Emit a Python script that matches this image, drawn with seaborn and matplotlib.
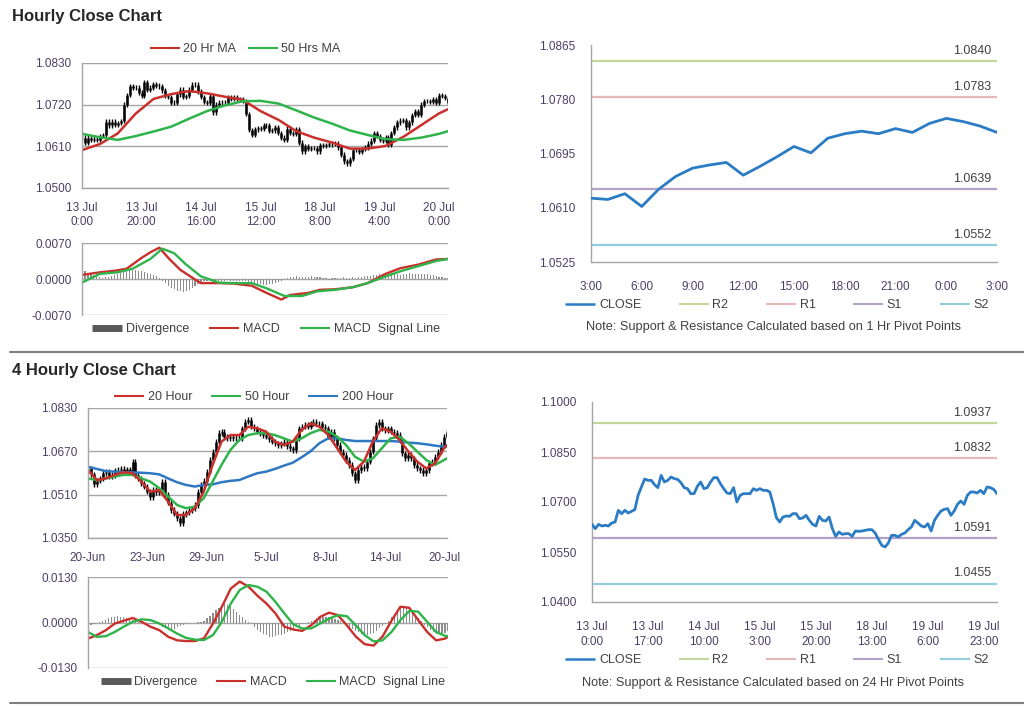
import numpy as np
import pandas as pd
import seaborn as sns
import matplotlib.pyplot as plt
from matplotlib.lines import Line2D

sns.set_style('white')
plt.rcParams['font.family'] = ['Liberation Sans', 'DejaVu Sans']

W, H = 1024, 706

# ---------------- hourly (13 Jul 0:00 .. 20 Jul 3:00) ----------------
hr_close = [1.0633, 1.0620, 1.0633, 1.0628, 1.0630, 1.0628, 1.0637, 1.0640, 1.0675, 1.0665,
            1.0675, 1.0667, 1.0672, 1.0677, 1.0720, 1.0745, 1.0769, 1.0765, 1.0765, 1.0752,
            1.0743, 1.0780, 1.0760, 1.0765, 1.0775, 1.0770, 1.0768, 1.0758, 1.0743, 1.0740,
            1.0725, 1.0725, 1.0747, 1.0760, 1.0740, 1.0743, 1.0760, 1.0773, 1.0773, 1.0755,
            1.0740, 1.0727, 1.0725, 1.0743, 1.0700, 1.0720, 1.0725, 1.0725, 1.0725, 1.0740,
            1.0735, 1.0740, 1.0735, 1.0735, 1.0730, 1.0695, 1.0653, 1.0640, 1.0655, 1.0658,
            1.0657, 1.0665, 1.0665, 1.0650, 1.0652, 1.0660, 1.0645, 1.0633, 1.0628, 1.0657,
            1.0645, 1.0643, 1.0655, 1.0620, 1.0597, 1.0610, 1.0603, 1.0605, 1.0605, 1.0597,
            1.0613, 1.0612, 1.0613, 1.0615, 1.0617, 1.0617, 1.0607, 1.0588, 1.0570, 1.0565,
            1.0577, 1.0600, 1.0600, 1.0595, 1.0603, 1.0607, 1.0617, 1.0625, 1.0645, 1.0637,
            1.0628, 1.0625, 1.0635, 1.0613, 1.0645, 1.0660, 1.0673, 1.0678, 1.0680, 1.0660,
            1.0673, 1.0693, 1.0703, 1.0693, 1.0720, 1.0730, 1.0730, 1.0727, 1.0735, 1.0725,
            1.0745, 1.0743, 1.0738, 1.0725]
hr_ticks = [0, 20, 40, 60, 80, 100, 120]
hr_labels = ['13 Jul\n0:00', '13 Jul\n20:00', '14 Jul\n16:00', '15 Jul\n12:00',
             '18 Jul\n8:00', '19 Jul\n4:00', '20 Jul\n0:00']
hr_yticks = [1.0500, 1.0610, 1.0720, 1.0830]

hr_ma_x = list(range(0, 121, 6)) + [123]
hr_ma20 = [1.0600, 1.0616, 1.0644, 1.0696, 1.0735, 1.0748, 1.0756, 1.0750, 1.0741, 1.0733, 1.0703,
           1.0680, 1.0650, 1.0633, 1.0620, 1.0604, 1.0604, 1.0611, 1.0635, 1.0666, 1.0697, 1.0708]
hr_ma50 = [1.0643, 1.0634, 1.0627, 1.0637, 1.0649, 1.0662, 1.0683, 1.0703, 1.0718, 1.0729, 1.0730,
           1.0723, 1.0705, 1.0686, 1.0670, 1.0652, 1.0640, 1.0629, 1.0627, 1.0633, 1.0643, 1.0650]

hr_macd_x = [0, 6, 11, 15, 20, 23, 26, 29, 33, 38, 40, 46, 51, 57, 62, 67, 70, 76, 80, 85,
             91, 96, 102, 107, 113, 119, 123]
hr_macd = [0.0008, 0.0013, 0.0016, 0.0020, 0.0041, 0.0052, 0.0061, 0.0041, 0.0018, -0.0001,
           -0.0008, -0.0008, -0.0009, -0.0013, -0.0027, -0.0040, -0.0031, -0.0027, -0.0021, -0.0020,
           -0.0016, -0.0008, 0.0010, 0.0021, 0.0028, 0.0038, 0.0039]
hr_sig_x = [0, 6, 12, 17, 23, 27, 31, 35, 40, 46, 51, 57, 62, 68, 74, 79, 85, 91, 96, 102,
            107, 113, 119, 123]
hr_sig = [-0.0007, 0.0010, 0.0013, 0.0020, 0.0039, 0.0059, 0.0050, 0.0028, 0.0005, -0.0007,
          -0.0008, -0.0008, -0.0018, -0.0033, -0.0033, -0.0024, -0.0021, -0.0016, -0.0008, 0.0005,
          0.0015, 0.0025, 0.0035, 0.0039]
# divergence in 1e-4 units
hr_div = [14, 16, 12, 10, 8, 5,
          3, 2, 3, 4, 5,
          7, 9, 11, 13, 15, 17, 18, 17,
          16, 15, 13, 12, 10, 8, 5, 2,
          -3, -8, -13, -17, -20, -23, -24, -25, -24,
          -22, -18, -14, -9, -5,
          -3, -3, -2, -2, -3, -3, -4, -3, -2, -3, -4, -4, -3, -3, -4, -5, -6,
          -8, -9, -10, -11, -11, -10, -9, -8, -6, -4, -2,
          2, 3, 4, 5, 4, 4, 3, 4, 5, 4, 3, 3, 2, 1, -1, 1, 2,
          2, 2, 3, 2, 2, 3, 2, 3, 4, 5, 5, 6,
          7, 8, 9, 10, 11, 12, 11, 10, 9, 8, 9, 10, 11,
          10, 9, 9, 10, 10, 9, 8, 7, 5, 4, 3, 2, 2]
hr_macd_ticks = [-0.0070, 0.0, 0.0070]

# ---------------- last 25 hours with 1 Hr pivots ----------------
last_labels = ['3:00', '6:00', '9:00', '12:00', '15:00', '18:00', '21:00', '0:00', '3:00']
last_close = [1.0625, 1.0623, 1.0632, 1.0612, 1.0639, 1.0659, 1.0672, 1.0677, 1.0681, 1.0661,
              1.0675, 1.0690, 1.0706, 1.0696, 1.0719, 1.0726, 1.0730, 1.0726, 1.0734, 1.0728,
              1.0742, 1.0750, 1.0745, 1.0738, 1.0728]
last_pivots = [1.0840, 1.0783, 1.0639, 1.0552]
last_yticks = [1.0525, 1.0610, 1.0695, 1.0780, 1.0865]

# ---------------- 4 hourly (20 Jun .. 20 Jul) ----------------
h4_close = [1.0607, 1.0585, 1.0550, 1.0562, 1.0570, 1.0590, 1.0595, 1.0578, 1.0583, 1.0600,
            1.0601, 1.0605, 1.0597, 1.0603, 1.0595, 1.0630, 1.0583, 1.0570, 1.0552, 1.0540,
            1.0521, 1.0500, 1.0527, 1.0520, 1.0527, 1.0558, 1.0509, 1.0480, 1.0454, 1.0440,
            1.0423, 1.0404, 1.0438, 1.0445, 1.0454, 1.0460, 1.0472, 1.0521, 1.0546, 1.0562,
            1.0595, 1.0638, 1.0669, 1.0706, 1.0737, 1.0743, 1.0724, 1.0718, 1.0724, 1.0718,
            1.0721, 1.0718, 1.0755, 1.0780, 1.0786, 1.0761, 1.0755, 1.0743, 1.0737, 1.0730,
            1.0724, 1.0715, 1.0706, 1.0700, 1.0693, 1.0700, 1.0706, 1.0690, 1.0681, 1.0675,
            1.0718, 1.0755, 1.0761, 1.0767, 1.0761, 1.0773, 1.0780, 1.0773, 1.0773, 1.0761,
            1.0755, 1.0724, 1.0743, 1.0718, 1.0693, 1.0669, 1.0657, 1.0638, 1.0620, 1.0589,
            1.0564, 1.0601, 1.0613, 1.0607, 1.0632, 1.0669, 1.0718, 1.0767, 1.0780, 1.0755,
            1.0749, 1.0755, 1.0743, 1.0737, 1.0730, 1.0712, 1.0663, 1.0644, 1.0657, 1.0644,
            1.0620, 1.0607, 1.0601, 1.0589, 1.0601, 1.0626, 1.0632, 1.0650, 1.0669, 1.0693,
            1.0724, 1.0743]
h4_ticks = [0, 20, 40, 60, 80, 100, 120]
h4_labels = ['20-Jun', '23-Jun', '29-Jun', '5-Jul', '8-Jul', '14-Jul', '20-Jul']
h4_yticks = [1.0350, 1.0510, 1.0670, 1.0830]

h4_ma_x = list(range(0, 121, 3)) + [121]
h4_ma20 = [1.0601, 1.0564, 1.0570, 1.0583, 1.0593, 1.0589, 1.0558, 1.0521, 1.0527, 1.0484,
           1.0435, 1.0435, 1.0460, 1.0521, 1.0620, 1.0706, 1.0730, 1.0730, 1.0761, 1.0755,
           1.0743, 1.0706, 1.0693, 1.0706, 1.0749, 1.0773, 1.0761, 1.0730, 1.0681, 1.0632,
           1.0601, 1.0632, 1.0706, 1.0755, 1.0743, 1.0712, 1.0669, 1.0632, 1.0607, 1.0626,
           1.0681, 1.0693]
h4_ma50 = [1.0570, 1.0564, 1.0570, 1.0577, 1.0583, 1.0583, 1.0570, 1.0558, 1.0534, 1.0503,
           1.0472, 1.0460, 1.0466, 1.0497, 1.0558, 1.0620, 1.0675, 1.0712, 1.0730, 1.0737,
           1.0737, 1.0730, 1.0718, 1.0706, 1.0718, 1.0737, 1.0749, 1.0743, 1.0724, 1.0693,
           1.0650, 1.0632, 1.0644, 1.0681, 1.0718, 1.0724, 1.0700, 1.0669, 1.0638, 1.0620,
           1.0638, 1.0644]
h4_ma200 = [1.0613, 1.0605, 1.0597, 1.0595, 1.0593, 1.0592, 1.0591, 1.0589, 1.0585, 1.0570,
            1.0556, 1.0546, 1.0540, 1.0546, 1.0548, 1.0556, 1.0561, 1.0564, 1.0577, 1.0589,
            1.0595, 1.0605, 1.0617, 1.0628, 1.0648, 1.0670, 1.0700, 1.0718, 1.0718, 1.0712,
            1.0708, 1.0708, 1.0708, 1.0708, 1.0708, 1.0706, 1.0702, 1.0700, 1.0696, 1.0691,
            1.0687, 1.0687]
h4_macd = [-0.0046, -0.0036, -0.0022, -0.0003, 0.0005, 0.0013, 0.0002, -0.0012, -0.0022, -0.0041,
           -0.0051, -0.0053, -0.0053, -0.0045, -0.0003, 0.0045, 0.0097, 0.0117, 0.0102, 0.0076,
           0.0054, 0.0026, -0.0012, -0.0020, -0.0024, -0.0008, 0.0016, 0.0028, 0.0021, -0.0008,
           -0.0040, -0.0062, -0.0066, -0.0040, 0.0005, 0.0045, 0.0042, 0.0007, -0.0027, -0.0051,
           -0.0046, -0.0041]
h4_sig = [-0.0027, -0.0041, -0.0039, -0.0027, -0.0012, 0.0002, 0.0009, 0.0007, -0.0003, -0.0017,
          -0.0032, -0.0044, -0.0049, -0.0050, -0.0036, 0.0002, 0.0054, 0.0093, 0.0107, 0.0102,
          0.0088, 0.0059, 0.0026, -0.0005, -0.0017, -0.0017, -0.0003, 0.0011, 0.0021, 0.0018,
          -0.0008, -0.0036, -0.0054, -0.0051, -0.0027, 0.0007, 0.0033, 0.0031, 0.0002, -0.0027,
          -0.0038, -0.0039]
h4_div = [-10, -8, -4, -2,
          2, 5, 8, 12, 15, 17, 18, 17, 15, 12, 9, 6, 3,
          1, 0, -1, -2, -3, -4, -5, -5,
          -12, -15, -18, -20, -18, -14, -10, -7, -4,
          -2, -1, 0, 1, 2,
          5, 12, 20, 28, 35, 42, 48, 52, 50, 45, 38, 30,
          22, 15, 8, 2,
          -5, -12, -20, -27, -33, -37, -40, -40, -39, -37, -35, -32, -28, -24, -19, -14,
          -9, -5, -2, 1, 4,
          7, 10, 13, 15, 16, 16, 14, 11, 7, 3,
          -2, -7, -12, -18, -23, -28, -32, -34, -35, -33, -29, -23, -16, -9, -3,
          5, 15, 25, 35, 42, 46, 45, 40, 32, 22, 12, 3,
          -6, -14, -22, -28, -32, -34, -33, -30, -25]
h4_macd_ticks = [-0.0130, 0.0, 0.0130]

# ---------------- hourly close with 24 Hr pivots ----------------
day_labels = ['13 Jul\n0:00', '13 Jul\n17:00', '14 Jul\n10:00', '15 Jul\n3:00',
              '15 Jul\n20:00', '18 Jul\n13:00', '19 Jul\n6:00', '19 Jul\n23:00']
day_ticks = [0, 17, 34, 51, 68, 85, 102, 119]
day_pivots = [1.0937, 1.0832, 1.0591, 1.0455]
day_yticks = [1.0400, 1.0550, 1.0700, 1.0850, 1.1000]

pivot_names = ['R2', 'R1', 'S1', 'S2']

# ---------------- styling ----------------
RED = '#c9302c'
GREEN = '#2fb44c'
BLUE = '#2e78c2'
CLOSE_C = '#2b7cc4'
PIV_C = ['#c3d69b', '#e6b9b8', '#b3a2c7', '#93cddd']
GRID = '#a6a6a6'
TICK = '#4a3f66'
TXT = '#404040'
FS = 8.5
LFS = 9


def box(x0, y0, x1, y1):
    return [x0 / W, 1 - y1 / H, (x1 - x0) / W, (y1 - y0) / H]


def base_style(ax, yticks, grid=True):
    ax.set_ylim(yticks[0], yticks[-1])
    ax.set_yticks(yticks)
    ax.set_yticklabels([f'{v:.4f}' for v in yticks])
    ax.set_xlabel('')
    ax.set_ylabel('')
    sns.despine(ax=ax)
    for s in ('left', 'bottom'):
        ax.spines[s].set_color(GRID)
        ax.spines[s].set_linewidth(1)
    if grid:
        ax.yaxis.grid(True, color=GRID, lw=1)
    ax.set_axisbelow(True)
    ax.tick_params(axis='both', colors=GRID, labelcolor=TICK, labelsize=FS,
                   direction='out', length=4, width=1)


def candles(ax, close, wick):
    c = np.array(close)
    o = np.r_[c[0], c[:-1]]
    x = np.arange(len(c))
    lo = np.minimum(o, c)
    hi = np.maximum(o, c)
    ax.vlines(x, lo - wick, hi + wick, color='black', lw=1.0)
    ax.vlines(x, lo, hi, color='black', lw=1.8)


def macd_panel(ax, xs_m, macd, xs_s, sig, div, ticks, xmax):
    idx = np.arange(len(div))
    sns.barplot(x=idx, y=np.array(div) * 1e-4, native_scale=True, color='#8c8c8c',
                width=0.4, linewidth=0, errorbar=None, saturation=1, ax=ax)
    sns.lineplot(x=xs_m, y=macd, ax=ax, color=RED, linewidth=1.7)
    sns.lineplot(x=xs_s, y=sig, ax=ax, color=GREEN, linewidth=1.7)
    base_style(ax, ticks)
    ax.set_xlim(0, xmax)
    ax.set_xticks([])
    ax.spines['bottom'].set_visible(False)


def pivot_chart(ax, close, pivots, yticks, xticks, xlabels, pad):
    x = np.arange(len(close))
    for v, c in zip(pivots, PIV_C):
        ax.axhline(v, color=c, lw=1.6, zorder=1)
        ax.annotate(f'{v:.4f}', xy=(x[-1], v), xytext=(-4, 3), textcoords='offset points',
                    ha='right', va='bottom', fontsize=9, color=TXT)
    sns.lineplot(x=x, y=close, ax=ax, color=CLOSE_C, linewidth=2.0, zorder=3)
    base_style(ax, yticks, grid=False)
    ax.set_xlim(0, x[-1])
    ax.set_xticks(xticks)
    ax.set_xticklabels(xlabels, linespacing=1.3)
    ax.tick_params(axis='x', pad=pad)
    ax.tick_params(axis='y', pad=7)


def make_legend(handles, labels, center, ncol, cs):
    fig.legend(handles, labels, loc='center', bbox_to_anchor=center, ncol=ncol,
               frameon=False, fontsize=LFS, handlelength=2.4, handletextpad=0.3,
               columnspacing=cs, labelcolor=TXT, borderpad=0, borderaxespad=0)


def lines(items):
    return [Line2D([], [], color=c, lw=lw, solid_capstyle='butt') for c, lw in items]


div_handles = [Line2D([], [], color='#595959', lw=5, solid_capstyle='butt')] + \
    lines([(RED, 1.5), (GREEN, 1.5)])
div_labels = ['Divergence', 'MACD', 'MACD  Signal Line']

fig = plt.figure(figsize=(W / 100, H / 100), dpi=100)

# section titles and separators
fig.text(12 / W, 1 - 16 / H, 'Hourly Close Chart', fontsize=12, fontweight='bold', va='center')
fig.text(12 / W, 1 - 370 / H, '4 Hourly Close Chart', fontsize=12, fontweight='bold', va='center')
for yy in (352, 703):
    fig.add_artist(Line2D([10 / W, 1], [1 - yy / H] * 2, color='#808080', lw=1.5))

# hourly candles
ax1 = fig.add_axes(box(82, 63, 448, 188))
candles(ax1, hr_close, 0.0006)
sns.lineplot(x=hr_ma_x, y=hr_ma20, ax=ax1, color=RED, linewidth=1.8)
sns.lineplot(x=hr_ma_x, y=hr_ma50, ax=ax1, color=GREEN, linewidth=1.8)
base_style(ax1, hr_yticks)
ax1.set_xlim(0, len(hr_close) - 1)
ax1.set_xticks(hr_ticks)
ax1.set_xticklabels(hr_labels, linespacing=1.25)
ax1.tick_params(axis='x', pad=6)
make_legend(lines([(RED, 1.5), (GREEN, 1.5)]), ['20 Hr MA', '50 Hrs MA'],
            (245 / W, 1 - 49 / H), 2, 0.9)

ax2 = fig.add_axes(box(82, 243, 448, 315))
macd_panel(ax2, hr_macd_x, hr_macd, hr_sig_x, hr_sig, hr_div, hr_macd_ticks, len(hr_close) - 1)
make_legend(div_handles, div_labels, (266 / W, 1 - 329 / H), 3, 1.6)

# last 25 hours
ax3 = fig.add_axes(box(591, 45, 997, 262))
pivot_chart(ax3, last_close, last_pivots, last_yticks, list(range(0, 25, 3)), last_labels, 10)
make_legend(lines([(CLOSE_C, 1.8)] + [(c, 1.5) for c in PIV_C]), ['CLOSE'] + pivot_names,
            (777 / W, 1 - 305 / H), 5, 3.0)
fig.text(773 / W, 1 - 327 / H, 'Note: Support & Resistance Calculated based on 1 Hr Pivot Points',
         ha='center', va='center', fontsize=9.2, color=TXT)

# 4 hourly candles
ax4 = fig.add_axes(box(88, 408, 447, 538))
candles(ax4, h4_close, 0.0010)
sns.lineplot(x=h4_ma_x, y=h4_ma200, ax=ax4, color=BLUE, linewidth=1.8)
sns.lineplot(x=h4_ma_x, y=h4_ma50, ax=ax4, color=GREEN, linewidth=1.8)
sns.lineplot(x=h4_ma_x, y=h4_ma20, ax=ax4, color=RED, linewidth=1.8)
base_style(ax4, h4_yticks)
ax4.set_xlim(0, len(h4_close) - 1)
ax4.set_xticks(h4_ticks)
ax4.set_xticklabels(h4_labels)
ax4.tick_params(axis='x', pad=6)
make_legend(lines([(RED, 1.5), (GREEN, 1.5), (BLUE, 1.5)]), ['20 Hour', '50 Hour', '200 Hour'],
            (254 / W, 1 - 397 / H), 3, 1.5)

ax5 = fig.add_axes(box(88, 577, 448, 668))
macd_panel(ax5, h4_ma_x, h4_macd, h4_ma_x, h4_sig, h4_div, h4_macd_ticks, len(h4_close) - 1)
make_legend(div_handles, div_labels, (273 / W, 1 - 682 / H), 3, 1.5)

# hourly close with 24 Hr pivots
ax6 = fig.add_axes(box(592, 402, 997, 602))
pivot_chart(ax6, hr_close, day_pivots, day_yticks, day_ticks, day_labels, 10)
make_legend(lines([(CLOSE_C, 1.8)] + [(c, 1.5) for c in PIV_C]), ['CLOSE'] + pivot_names,
            (777 / W, 1 - 660 / H), 5, 3.0)
fig.text(773 / W, 1 - 683 / H, 'Note: Support & Resistance Calculated based on 24 Hr Pivot Points',
         ha='center', va='center', fontsize=9.2, color=TXT)

fig.savefig('out.png', dpi=100)
